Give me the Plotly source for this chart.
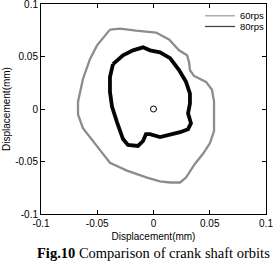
import plotly.graph_objects as go

# 60rps orbit (mm)
x60 = [-0.0387, -0.0298, -0.0156, 0.0022, 0.0138, 0.0227, 0.0298, 0.0316, 0.0324, 0.0360,
       0.0467, 0.0520, 0.0538, 0.0538, 0.0502, 0.0440, 0.0369, 0.0289, 0.0236, 0.0147,
       0.0058, -0.0058, -0.0236, -0.0387, -0.0449, -0.0538, -0.0627, -0.0671, -0.0671,
       -0.0627, -0.0565, -0.0502, -0.0387]
y60 = [0.0756, 0.0765, 0.0746, 0.0728, 0.0662, 0.0559, 0.0512, 0.0446, 0.0371, 0.0315,
       0.0258, 0.0183, 0.0070, -0.0211, -0.0324, -0.0427, -0.0521, -0.0653, -0.0700, -0.0700,
       -0.0690, -0.0653, -0.0587, -0.0512, -0.0427, -0.0305, -0.0183, -0.0052, 0.0070,
       0.0286, 0.0474, 0.0606, 0.0756]

# 80rps orbit (mm)
x80 = [-0.0360, -0.0271, -0.0182, -0.0093, -0.0031, 0.0058, 0.0147, 0.0227, 0.0289, 0.0324,
       0.0324, 0.0307, 0.0333, 0.0307, 0.0236, 0.0147, 0.0058, -0.0031, -0.0067, -0.0093,
       -0.0138, -0.0227, -0.0271, -0.0324, -0.0369, -0.0387, -0.0387, -0.0360]
y80 = [0.0427, 0.0512, 0.0559, 0.0587, 0.0559, 0.0540, 0.0484, 0.0371, 0.0258, 0.0146,
       0.0052, -0.0042, -0.0136, -0.0192, -0.0221, -0.0249, -0.0268, -0.0239, -0.0239, -0.0305,
       -0.0352, -0.0343, -0.0286, -0.0127, 0.0023, 0.0164, 0.0305, 0.0427]

centre_x = [0.0]
centre_y = [0.0]

ticks = [-0.1, -0.05, 0, 0.05, 0.1]
tick_text = ["-0.1", "-0.05", "0", "0.05", "0.1"]

fig = go.Figure()
fig.add_trace(go.Scatter(x=x60, y=y60, mode="lines", name="60rps", showlegend=False,
                         line=dict(color="rgb(140,140,140)", width=2.3)))
fig.add_trace(go.Scatter(x=x80, y=y80, mode="lines", name="80rps", showlegend=False,
                         line=dict(color="rgb(5,5,5)", width=3.8)))
fig.add_trace(go.Scatter(x=centre_x, y=centre_y, mode="markers", showlegend=False,
                         marker=dict(symbol="circle-open", size=6, color="black",
                                     line=dict(width=1))))
# legend-only entries (thin lines as in the reference legend)
fig.add_trace(go.Scatter(x=[None], y=[None], mode="lines", name="60rps", legend="legend",
                         line=dict(color="rgb(175,175,175)", width=1.3)))
fig.add_trace(go.Scatter(x=[None], y=[None], mode="lines", name="80rps", legend="legend2",
                         line=dict(color="rgb(70,70,70)", width=1.3)))

axis_common = dict(
    range=[-0.1, 0.1], tickvals=ticks, ticktext=tick_text,
    ticks="inside", ticklen=4, tickcolor="black", mirror="ticks",
    showline=True, linecolor="black", linewidth=1, showgrid=False, zeroline=False,
    ticklabeloverflow="allow", automargin=False,
    tickfont=dict(family="Liberation Sans, Arial", size=10, color="black"),
)

legend_common = dict(xanchor="left", yanchor="top", bgcolor="rgba(0,0,0,0)",
                     font=dict(family="Liberation Sans, Arial", size=9.5, color="black"),
                     itemwidth=30, borderwidth=0)

fig.update_layout(
    width=273, height=262,
    margin=dict(l=41, r=7, t=1, b=48),
    paper_bgcolor="white", plot_bgcolor="white",
    xaxis=dict(**axis_common,
               title=dict(text="Displacement(mm)", standoff=4,
                          font=dict(family="Liberation Sans, Arial", size=10, color="black"))),
    yaxis=dict(**axis_common,
               title=dict(text="Displacement(mm)", standoff=2,
                          font=dict(family="Liberation Sans, Arial", size=10, color="black"))),
    legend=dict(**legend_common, x=0.7067, y=1.013),
    legend2=dict(**legend_common, x=0.7067, y=0.962),
    annotations=[dict(text="<b>Fig.10</b> Comparison of crank shaft orbits",
                      xref="paper", yref="paper", x=0.5, y=0, yanchor="top",
                      yshift=-29, showarrow=False,
                      font=dict(family="Liberation Serif, Times New Roman", size=14.5, color="black"))],
    showlegend=True,
)

fig.write_html("out.html")
